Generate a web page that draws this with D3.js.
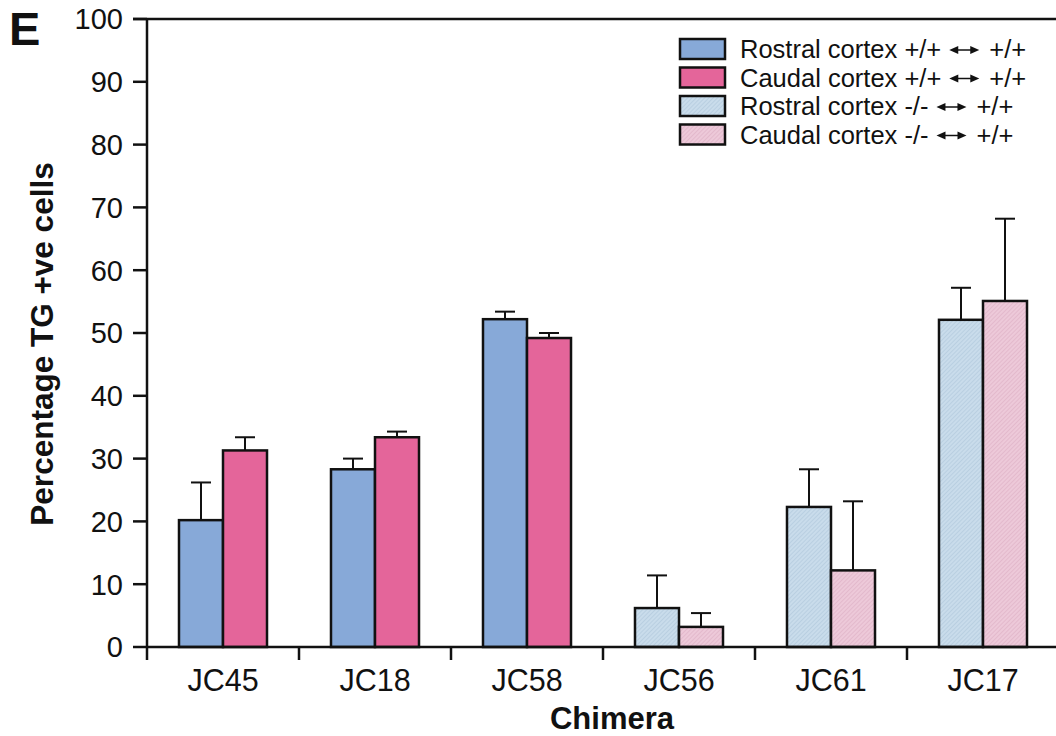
<!DOCTYPE html>
<html>
<head>
<meta charset="utf-8">
<script src="https://cdn.jsdelivr.net/npm/d3@7"></script>
<style>
  body { margin: 0; background: #fff; }
  text { font-family: "Liberation Sans", Arial, sans-serif; fill: #111; }
</style>
</head>
<body>
<svg id="chart" width="1056" height="736"></svg>
<script>
// données
const categories = ["JC45", "JC18", "JC58", "JC56", "JC61", "JC17"];
const genotype = ["wt", "wt", "wt", "ko", "ko", "ko"];
const rostral = [20.2, 28.3, 52.2, 6.2, 22.3, 52.1];
const rostralErr = [6.0, 1.7, 1.2, 5.2, 6.0, 5.1];
const caudal = [31.3, 33.4, 49.2, 3.2, 12.2, 55.1];
const caudalErr = [2.1, 0.9, 0.8, 2.2, 11.0, 13.1];
const yTicks = [0, 10, 20, 30, 40, 50, 60, 70, 80, 90, 100];
const legendLabels = [
  ["Rostral cortex +/+", "+/+"],
  ["Caudal cortex +/+", "+/+"],
  ["Rostral cortex -/-", "+/+"],
  ["Caudal cortex -/-", "+/+"]
];

const colors = {
  "wt-rostral": "#87a9d8",
  "wt-caudal": "#e4659a",
  "ko-rostral": "url(#hatchBlue)",
  "ko-caudal": "url(#hatchPink)"
};

const svg = d3.select("#chart");
const plotLeft = 147, plotRight = 1059, plotTop = 19, plotBottom = 647;

// motifs hachurés pour les chimères -/-
const defs = svg.append("defs");
[["hatchBlue", "#c9dceb", "#a9c3d8"], ["hatchPink", "#edc9d9", "#d9aabf"]].forEach(([id, bg, fg]) => {
  const p = defs.append("pattern")
    .attr("id", id)
    .attr("patternUnits", "userSpaceOnUse")
    .attr("width", 3).attr("height", 3)
    .attr("patternTransform", "rotate(45)");
  p.append("rect").attr("width", 3).attr("height", 3).attr("fill", bg);
  p.append("line").attr("x1", 0).attr("y1", 0).attr("x2", 0).attr("y2", 3)
    .attr("stroke", fg).attr("stroke-width", 1);
});

const pad = 0.421;
const x = d3.scaleBand().domain(categories).range([plotLeft, plotRight])
  .paddingInner(pad).paddingOuter(pad / 2);
const xSub = d3.scaleBand().domain(["rostral", "caudal"]).range([0, x.bandwidth()]);
const y = d3.scaleLinear().domain([0, 100]).range([plotBottom, plotTop]);

// données regroupées
const bars = [];
categories.forEach((c, i) => {
  bars.push({ cat: c, s: "rostral", v: rostral[i], e: rostralErr[i], g: genotype[i] });
  bars.push({ cat: c, s: "caudal", v: caudal[i], e: caudalErr[i], g: genotype[i] });
});

// barres d'erreur (vers le haut seulement)
const err = svg.append("g").attr("stroke", "#111").attr("stroke-width", 2);
bars.forEach(d => {
  const cx = x(d.cat) + xSub(d.s) + xSub.bandwidth() / 2;
  err.append("line").attr("x1", cx).attr("x2", cx)
    .attr("y1", y(d.v)).attr("y2", y(d.v + d.e));
  err.append("line").attr("x1", cx - 10).attr("x2", cx + 10)
    .attr("y1", y(d.v + d.e)).attr("y2", y(d.v + d.e));
});

// barres
svg.append("g").selectAll("rect")
  .data(bars)
  .enter()
  .append("rect")
  .attr("x", d => x(d.cat) + xSub(d.s))
  .attr("y", d => y(d.v))
  .attr("width", xSub.bandwidth())
  .attr("height", d => y(0) - y(d.v))
  .attr("fill", d => colors[d.g + "-" + d.s])
  .attr("stroke", "#111")
  .attr("stroke-width", 2.5);

// axe Y
const yAxis = svg.append("g");
yAxis.append("line").attr("x1", plotLeft).attr("x2", plotLeft)
  .attr("y1", plotTop - 1).attr("y2", plotBottom + 13)
  .attr("stroke", "#111").attr("stroke-width", 2.5);
yAxis.append("line").attr("x1", plotLeft - 14).attr("x2", 1056)
  .attr("y1", y(100)).attr("y2", y(100))
  .attr("stroke", "#111").attr("stroke-width", 2.5);
yTicks.forEach(t => {
  yAxis.append("line").attr("x1", plotLeft - 14).attr("x2", plotLeft)
    .attr("y1", y(t)).attr("y2", y(t))
    .attr("stroke", "#111").attr("stroke-width", 2.5);
  yAxis.append("text").attr("x", 123).attr("y", y(t)).attr("dy", "0.36em")
    .attr("text-anchor", "end").attr("font-size", 29).text(t);
});

// axe X
const xAxis = svg.append("g");
xAxis.append("line").attr("x1", plotLeft).attr("x2", 1056)
  .attr("y1", plotBottom).attr("y2", plotBottom)
  .attr("stroke", "#111").attr("stroke-width", 2.5);
const step = x.step();
categories.forEach((c, i) => {
  const bx = x(c) - step * pad / 2 + step;
  xAxis.append("line").attr("x1", bx).attr("x2", bx)
    .attr("y1", plotBottom).attr("y2", plotBottom + 13)
    .attr("stroke", "#111").attr("stroke-width", 2.5);
  xAxis.append("text").attr("x", x(c) + x.bandwidth() / 2).attr("y", 691)
    .attr("text-anchor", "middle").attr("font-size", 30.5).text(c);
});

// titres
svg.append("text").attr("x", 612).attr("y", 729).attr("text-anchor", "middle")
  .attr("font-size", 31).attr("font-weight", "bold").text("Chimera");
svg.append("text").attr("transform", "translate(53,344) rotate(-90)")
  .attr("text-anchor", "middle").attr("font-size", 31.5).attr("font-weight", "bold")
  .text("Percentage TG +ve cells");
svg.append("text").attr("x", 9).attr("y", 45)
  .attr("font-size", 47).attr("font-weight", "bold").text("E");

// légende
const legFills = ["#87a9d8", "#e4659a", "url(#hatchBlue)", "url(#hatchPink)"];
legendLabels.forEach((lab, i) => {
  const ly = 49 + i * 28.5;
  const g = svg.append("g");
  g.append("rect").attr("x", 680).attr("y", ly - 10).attr("width", 45).attr("height", 20)
    .attr("fill", legFills[i]).attr("stroke", "#111").attr("stroke-width", 2.5);
  const t1 = g.append("text").attr("x", 740).attr("y", ly + 9)
    .attr("font-size", 25.5).text(lab[0]);
  const w = t1.node().getComputedTextLength();
  // petite flèche double
  const ax0 = 740 + w + 8, ax1 = ax0 + 30, ay = ly + 1;
  g.append("line").attr("x1", ax0 + 6).attr("x2", ax1 - 6).attr("y1", ay).attr("y2", ay)
    .attr("stroke", "#111").attr("stroke-width", 1.5);
  g.append("path").attr("d", `M${ax0},${ay} l9,-4 v8 z M${ax1},${ay} l-9,-4 v8 z`)
    .attr("fill", "#111");
  g.append("text").attr("x", ax1 + 10).attr("y", ly + 9)
    .attr("font-size", 25.5).text(lab[1]);
});
</script>
</body>
</html>
